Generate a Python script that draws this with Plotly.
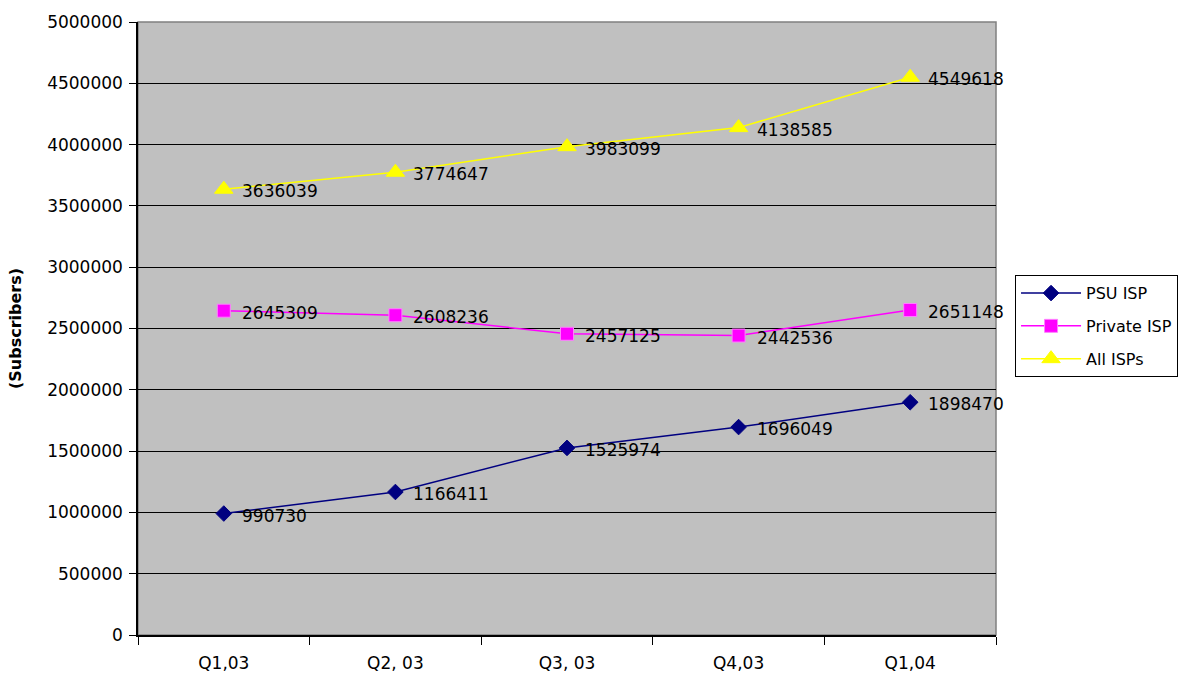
import plotly.graph_objects as go

categories = ["Q1,03", "Q2, 03", "Q3, 03", "Q4,03", "Q1,04"]
psu_isp = [990730, 1166411, 1525974, 1696049, 1898470]
private_isp = [2645309, 2608236, 2457125, 2442536, 2651148]
all_isps = [3636039, 3774647, 3983099, 4138585, 4549618]
y_ticks = list(range(0, 5000001, 500000))

FONT = "DejaVu Sans, Arial, sans-serif"
series = [
    ("PSU ISP", psu_isp, "#000080", "diamond", 12),
    ("Private ISP", private_isp, "#FF00FF", "square", 13),
    ("All ISPs", all_isps, "#FFFF00", "triangle-up", 16),
]

fig = go.Figure()
annotations = []
for i, (name, vals, color, sym, size) in enumerate(series):
    fig.add_trace(go.Scatter(
        x=categories, y=vals, name=name, mode="lines+markers",
        legendgroup=f"g{i}",
        line=dict(color=color, width=1.5),
        marker=dict(symbol=sym, size=size, color=color,
                    line=dict(width=1, color="#FF80FF" if sym == "square" else color)),
    ))
    for c, v in zip(categories, vals):
        annotations.append(dict(
            x=c, y=v, xref="x", yref="y", text=str(v), showarrow=False,
            xanchor="left", yanchor="middle", xshift=16, yshift=-2,
            font=dict(family=FONT, size=17, color="black"),
        ))

fig.update_layout(
    width=1189, height=679,
    margin=dict(l=138, r=192, t=22, b=44),
    paper_bgcolor="white", plot_bgcolor="#C0C0C0",
    font=dict(family=FONT, size=17, color="black"),
    annotations=annotations,
    showlegend=True,
    legend=dict(
        x=1.021, y=0.587, xanchor="left", yanchor="top",
        bgcolor="white", bordercolor="black", borderwidth=1,
        font=dict(family=FONT, size=16, color="black"),
        itemwidth=60, traceorder="grouped", tracegroupgap=9,
    ),
    shapes=[dict(type="rect", xref="paper", yref="paper", x0=0, x1=1, y0=0, y1=1,
                 line=dict(color="#808080", width=1.5), layer="below")],
)
fig.update_xaxes(
    type="category", range=[-0.5, len(categories) - 0.5],
    tickson="boundaries", ticks="outside", ticklen=8,
    tickcolor="black", showline=True, linecolor="black", linewidth=1.5,
    showgrid=False, tickfont=dict(size=17), automargin=False,
    ticklabelstandoff=12,
)
fig.update_yaxes(
    range=[0, 5000000], tickvals=y_ticks, ticktext=[str(t) for t in y_ticks],
    ticks="outside", ticklen=7, tickcolor="black",
    showline=True, linecolor="black", linewidth=1.5,
    showgrid=True, gridcolor="black", gridwidth=1, zeroline=False,
    tickfont=dict(size=17), automargin=False, ticklabelstandoff=3,
    title=dict(text="<b>(Subscribers)</b>", font=dict(size=16), standoff=22),
)

fig.write_html("out.html", config={"displayModeBar": False},
               post_script="document.body.style.margin='0';document.body.style.overflow='hidden';")
